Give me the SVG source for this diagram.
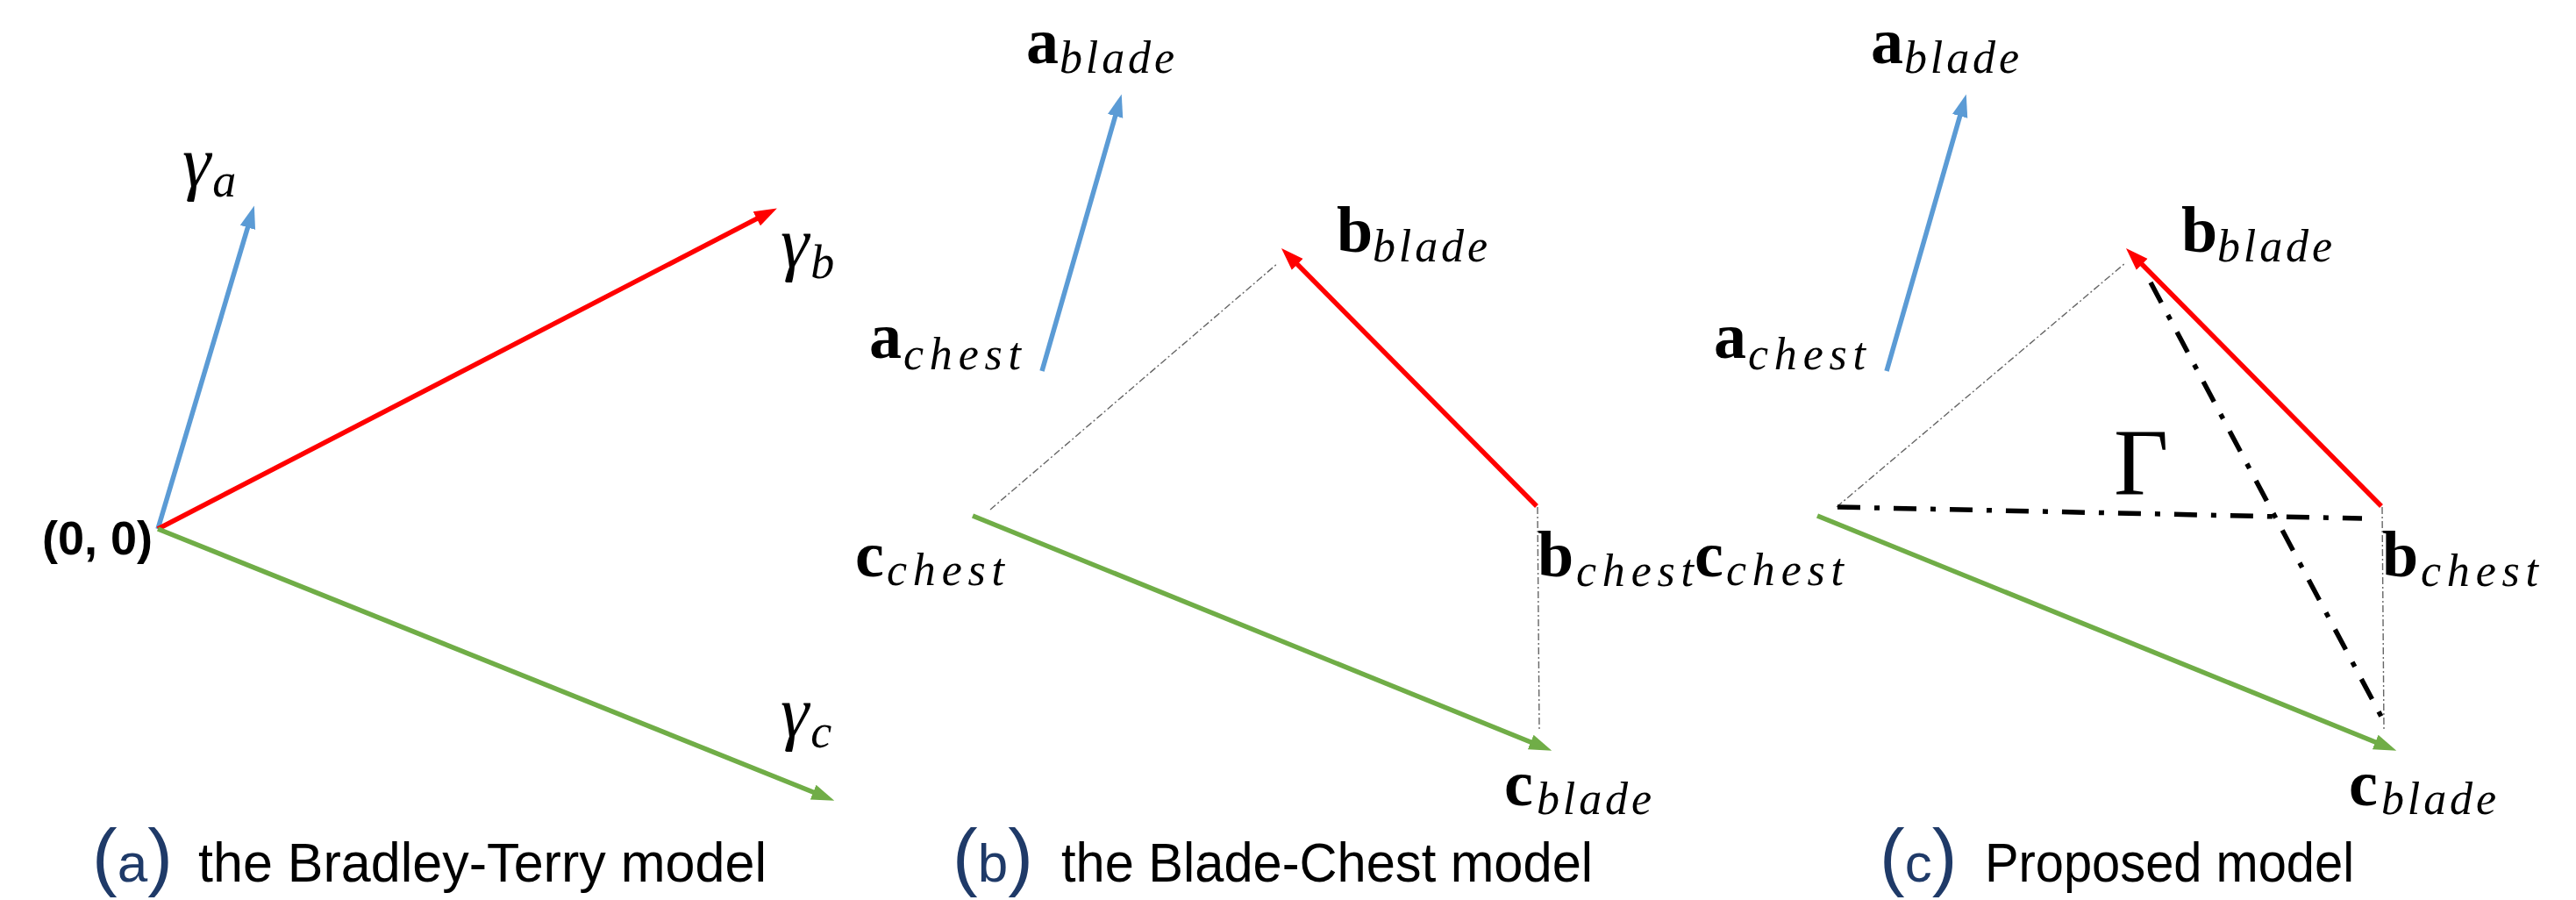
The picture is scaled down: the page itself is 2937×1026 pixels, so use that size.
<svg xmlns="http://www.w3.org/2000/svg" width="2937" height="1026" viewBox="0 0 2937 1026">
<style>
.bg{fill:#fff}
.vb{stroke:#5B9BD5;stroke-width:5.5;fill:none}
.vr{stroke:#FF0000;stroke-width:5.5;fill:none}
.vg{stroke:#70AD47;stroke-width:5.5;fill:none}
.thin{stroke:#666;stroke-width:1.4;stroke-dasharray:8 3 2 3;fill:none}
.dd{stroke:#000;stroke-width:5.5;stroke-dasharray:26 16 6 16;fill:none}
.mi{font-family:"Liberation Serif","DejaVu Serif",serif;font-style:italic;fill:#000}
.bd{font-family:"Liberation Serif","DejaVu Serif",serif;font-weight:bold;fill:#000}
.up{font-family:"Liberation Serif","DejaVu Serif",serif;fill:#000}
.cap{font-family:"Liberation Sans","Arial",sans-serif;font-size:63px;fill:#000}
.par{font-family:"Liberation Sans","Arial",sans-serif;fill:#1F3A68}
.orig{font-family:"Liberation Sans","Arial",sans-serif;font-weight:bold;font-size:54px;fill:#000}
</style>
<defs>
<marker id="hb" markerUnits="userSpaceOnUse" markerWidth="26" markerHeight="20" refX="16" refY="10" orient="auto"><path d="M0,1 L26,10 L0,19 z" fill="#5B9BD5"/></marker>
<marker id="hr" markerUnits="userSpaceOnUse" markerWidth="26" markerHeight="20" refX="16" refY="10" orient="auto"><path d="M0,1 L26,10 L0,19 z" fill="#FF0000"/></marker>
<marker id="hg" markerUnits="userSpaceOnUse" markerWidth="26" markerHeight="20" refX="16" refY="10" orient="auto"><path d="M0,1 L26,10 L0,19 z" fill="#70AD47"/></marker>
</defs>
<rect class="bg" x="0" y="0" width="2937" height="1026"/>

<!-- Panel (a) -->
<g id="connectors-a">
<line class="vb" x1="180" y1="603" x2="287" y2="244" marker-end="url(#hb)"/>
<line class="vr" x1="180" y1="603" x2="877" y2="242" marker-end="url(#hr)"/>
<line class="vg" x1="180" y1="603" x2="942" y2="909" marker-end="url(#hg)"/>
</g>
<g id="origin"><text class="orig" x="174" y="632" text-anchor="end">(0, 0)</text></g>
<g id="gamma-a"><text class="mi" x="208" y="212" font-size="82">γ<tspan font-size="54" y="224" dx="2">a</tspan></text></g>
<g id="gamma-b"><text class="mi" x="890" y="304" font-size="82">γ<tspan font-size="54" y="317" dx="2">b</tspan></text></g>
<g id="gamma-c"><text class="mi" x="890" y="839" font-size="82">γ<tspan font-size="54" y="852" dx="2">c</tspan></text></g>
<g id="caption-a">
<text class="par" x="105" y="1005" font-size="86">(<tspan font-size="62">a</tspan>)</text>
<text class="cap" x="226" y="1005" textLength="648" lengthAdjust="spacingAndGlyphs">the Bradley-Terry model</text>
</g>

<!-- Panel (b) -->
<g id="connectors-b">
<line class="thin" x1="1129" y1="581" x2="1457" y2="300"/>
<line class="thin" x1="1753" y1="578" x2="1755" y2="832"/>
<line class="vb" x1="1188" y1="423" x2="1276" y2="117" marker-end="url(#hb)"/>
<line class="vr" x1="1752" y1="577" x2="1468" y2="290" marker-end="url(#hr)"/>
<line class="vg" x1="1109" y1="588" x2="1760" y2="852" marker-end="url(#hg)"/>
</g>
<g id="a-blade-b"><text class="bd" x="1170" y="72" font-size="74">a</text><text class="mi" x="1208" y="83" font-size="52" textLength="131" lengthAdjust="spacing">blade</text></g>
<g id="a-chest-b"><text class="bd" x="991" y="408" font-size="74">a</text><text class="mi" x="1030" y="421" font-size="52" textLength="134" lengthAdjust="spacing">chest</text></g>
<g id="b-blade-b"><text class="bd" x="1524" y="287" font-size="74">b</text><text class="mi" x="1565" y="298" font-size="52" textLength="131" lengthAdjust="spacing">blade</text></g>
<g id="c-chest-b"><text class="bd" x="975" y="657" font-size="74">c</text><text class="mi" x="1011" y="667" font-size="52" textLength="134" lengthAdjust="spacing">chest</text></g>
<g id="b-chest-b"><text class="bd" x="1753" y="657" font-size="74">b</text><text class="mi" x="1797" y="668" font-size="52" textLength="134" lengthAdjust="spacing">chest</text></g>
<g id="c-blade-b"><text class="bd" x="1715" y="918" font-size="74">c</text><text class="mi" x="1752" y="928" font-size="52" textLength="131" lengthAdjust="spacing">blade</text></g>
<g id="caption-b">
<text class="par" x="1086" y="1005" font-size="86">(<tspan font-size="62">b</tspan>)</text>
<text class="cap" x="1210" y="1005" textLength="606" lengthAdjust="spacingAndGlyphs">the Blade-Chest model</text>
</g>

<!-- Panel (c) -->
<g id="connectors-c">
<line class="thin" x1="2094" y1="578" x2="2423" y2="300"/>
<line class="thin" x1="2716" y1="578" x2="2718" y2="832"/>
<line class="dd" x1="2095" y1="578" x2="2693" y2="591"/>
<line class="dd" x1="2452" y1="322" x2="2722" y2="830"/>
<line class="vb" x1="2151" y1="423" x2="2239" y2="117" marker-end="url(#hb)"/>
<line class="vr" x1="2715" y1="577" x2="2431" y2="290" marker-end="url(#hr)"/>
<line class="vg" x1="2072" y1="588" x2="2723" y2="852" marker-end="url(#hg)"/>
</g>
<g id="gamma-big"><text class="up" x="2410" y="563" font-size="108">Γ</text></g>
<g id="a-blade-c"><text class="bd" x="2133" y="72" font-size="74">a</text><text class="mi" x="2171" y="83" font-size="52" textLength="131" lengthAdjust="spacing">blade</text></g>
<g id="a-chest-c"><text class="bd" x="1954" y="408" font-size="74">a</text><text class="mi" x="1993" y="421" font-size="52" textLength="134" lengthAdjust="spacing">chest</text></g>
<g id="b-blade-c"><text class="bd" x="2487" y="287" font-size="74">b</text><text class="mi" x="2528" y="298" font-size="52" textLength="131" lengthAdjust="spacing">blade</text></g>
<g id="c-chest-c"><text class="bd" x="1932" y="657" font-size="74">c</text><text class="mi" x="1968" y="667" font-size="52" textLength="134" lengthAdjust="spacing">chest</text></g>
<g id="b-chest-c"><text class="bd" x="2716" y="657" font-size="74">b</text><text class="mi" x="2760" y="668" font-size="52" textLength="134" lengthAdjust="spacing">chest</text></g>
<g id="c-blade-c"><text class="bd" x="2678" y="918" font-size="74">c</text><text class="mi" x="2715" y="928" font-size="52" textLength="131" lengthAdjust="spacing">blade</text></g>
<g id="caption-c">
<text class="par" x="2143" y="1005" font-size="86">(<tspan font-size="62">c</tspan>)</text>
<text class="cap" x="2263" y="1005" textLength="421" lengthAdjust="spacingAndGlyphs">Proposed model</text>
</g>
</svg>
